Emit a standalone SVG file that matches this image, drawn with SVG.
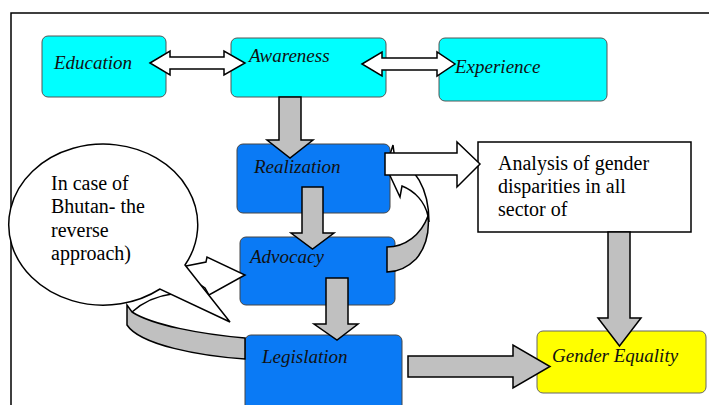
<svg xmlns="http://www.w3.org/2000/svg" width="709" height="405" viewBox="0 0 709 405">
<defs>
<style>
.cy{fill:#00FFFF;stroke:#555;stroke-width:1}
.bl{fill:#0A7AF5;stroke:#444;stroke-width:1}
.ye{fill:#FFFF00;stroke:#666;stroke-width:1}
.ga{fill:#C0C0C0;stroke:#000;stroke-width:1.5}
.wa{fill:#FFF;stroke:#000;stroke-width:1.5}
</style>
</defs>
<rect width="709" height="405" fill="#fff"/>
<path d="M11,405 V13 H709" fill="none" stroke="#000" stroke-width="1.5"/>

<g id="education"><rect class="cy" x="42" y="36" width="124" height="61" rx="6"/><text x="54" y="69" font-family="Liberation Serif, Times New Roman, serif" font-style="italic" font-size="19" fill="#111">Education</text></g>
<g id="awareness"><rect class="cy" x="231" y="38" width="155" height="59" rx="6"/><text x="249" y="62" font-family="Liberation Serif, Times New Roman, serif" font-style="italic" font-size="19" fill="#111">Awareness</text></g>
<g id="experience"><rect class="cy" x="439" y="38" width="168" height="63" rx="6"/><text x="455" y="73" font-family="Liberation Serif, Times New Roman, serif" font-style="italic" font-size="19" fill="#111">Experience</text></g>
<g id="realization"><rect class="bl" x="237" y="144" width="153" height="69" rx="6"/><text x="254" y="173" font-family="Liberation Serif, Times New Roman, serif" font-style="italic" font-size="19" fill="#111">Realization</text></g>
<g id="advocacy"><rect class="bl" x="240" y="237" width="155" height="68" rx="6"/><text x="250" y="263" font-family="Liberation Serif, Times New Roman, serif" font-style="italic" font-size="19" fill="#111">Advocacy</text></g>
<g id="legislation"><rect class="bl" x="245" y="335" width="157" height="80" rx="6"/><text x="262" y="363" font-family="Liberation Serif, Times New Roman, serif" font-style="italic" font-size="19" fill="#111">Legislation</text></g>
<g id="gender-equality"><rect class="ye" x="537" y="331" width="169" height="62" rx="6"/><text x="552" y="362" font-family="Liberation Serif, Times New Roman, serif" font-style="italic" font-size="19" fill="#111">Gender Equality</text></g>
<g id="analysis"><rect x="478" y="142" width="213" height="90" fill="#fff" stroke="#000" stroke-width="1.5"/>
<text x="498" y="170" font-family="Liberation Serif, Times New Roman, serif" font-size="20">Analysis of gender</text>
<text x="498" y="193" font-family="Liberation Serif, Times New Roman, serif" font-size="20">disparities in all</text>
<text x="498" y="216" font-family="Liberation Serif, Times New Roman, serif" font-size="20">sector of</text></g>

<g id="connectors">
<polygon class="wa" points="150,63 170,51 170,57 224,57 224,51 245,63 224,75 224,69 170,69 170,75"/>
<polygon class="wa" points="362,64 382,52 382,58 437,58 437,52 455,64 437,76 437,70 382,70 382,76"/>
<polygon class="ga" points="279,97 301,97 301,140 313,140 290,158 267,140 279,140"/>
<polygon class="ga" points="302,187 323,187 323,233 334,233 312.5,249 291,233 302,233"/>
<polygon class="ga" points="326,278 348,278 348,324 358,324 337,340 314,324 326,324"/>
<polygon class="ga" points="408,356 513,356 513,345 550,366.5 513,388 513,377 408,377"/>
<polygon class="ga" points="608,232 630,232 630,318 641,318 619.5,346 598,318 608,318"/>
<path class="ga" d="M387,247 C405,247 421,235 428,216 C430,235 424,250 416,259 C407,268 397,272 387,272 Z"/>
<path class="wa" d="M428,216 C425,202 415,191 402,186 L400,197 L386,167 L393,145 L395,160 C414,165 429,188 429,222 Z"/>
<polygon class="wa" points="385,153 457,153 457,142 480,164 457,187 457,175 385,175"/>
<path class="ga" d="M245,338 C200,334 152,325 132,312 L127,305 L127,325 C140,345 200,356 245,359 Z"/>
<path d="M132,312 C142,303 156,296 172,294" fill="none" stroke="#000" stroke-width="1.5"/>
<polygon class="wa" points="186,266 206,262 207,257 245,275 209,295 205,288 192,279"/>
</g>

<g id="callout">
<path class="wa" d="M185,265 L230,322 L160,289 A94.5,80.5 0 1 1 185,265 Z"/>
<text x="51" y="190" font-family="Liberation Serif, Times New Roman, serif" font-size="20">In case of</text>
<text x="51" y="213" font-family="Liberation Serif, Times New Roman, serif" font-size="20">Bhutan- the</text>
<text x="51" y="237" font-family="Liberation Serif, Times New Roman, serif" font-size="20">reverse</text>
<text x="51" y="260" font-family="Liberation Serif, Times New Roman, serif" font-size="20">approach)</text>
</g>
</svg>
